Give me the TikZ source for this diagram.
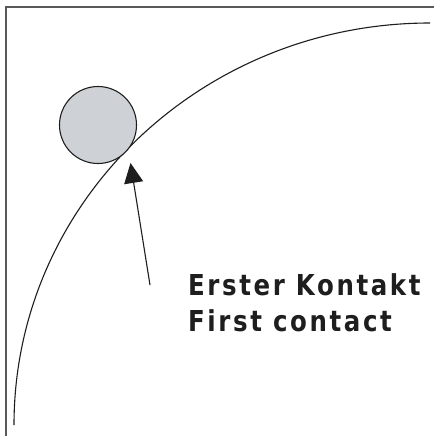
\documentclass[tikz,border=0pt]{standalone}
\usepackage{fontspec}
\newfontfamily\labfont[LetterSpace=9,FakeStretch=0.85]{DejaVu Sans}
\usetikzlibrary{arrows.meta}
\definecolor{ballgray}{RGB}{206,210,214}
\definecolor{ink}{RGB}{30,30,30}
\begin{document}
\begin{tikzpicture}[x=1pt,y=-1pt,
  frameline/.style={draw=gray!70!black,line width=1.1pt},
  curveline/.style={draw=ink,line width=1.1pt},
  ball/.style={circle,draw=ink,line width=1.1pt,fill=ballgray,minimum size=77pt,inner sep=0pt},
  pointer/.style={draw=ink,line width=1.1pt,-{Triangle[length=20pt,width=19pt]}},
  lab/.style={anchor=base west,inner sep=0pt,text=ink,font=\labfont\bfseries\fontsize{28.8}{32}\selectfont}]
\useasboundingbox (0,0) rectangle (434,436);
\fill[white] (0,0) rectangle (434,436);
\coordinate (fa) at (6,436);
\coordinate (fb) at (6,7);
\coordinate (fc) at (434,7);
\draw[frameline] (fa) -- (fb) -- (fc);
\coordinate (cs) at (14,425);
\draw[curveline] (cs) arc[start angle=180,end angle=90,x radius=416,y radius=-402];
\node[ball] (b) at (98,125) {};
\coordinate (tail) at (150,285);
\coordinate (tip) at (130.5,163);
\draw[pointer] (tail) -- (tip);
\node[lab] (l1) at (188,295) {Erster Kontakt};
\node[lab] (l2) at (188,331) {First contact};
\end{tikzpicture}
\end{document}
